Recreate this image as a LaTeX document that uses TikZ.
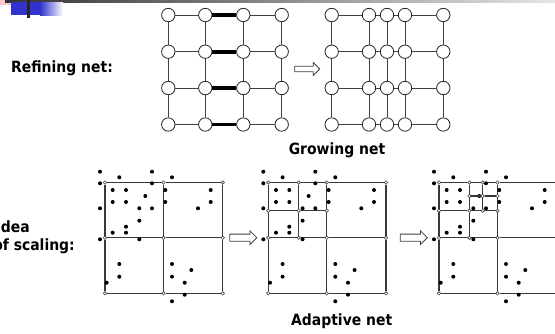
\documentclass[tikz,border=0pt]{standalone}
\usepackage{fontspec}
\newfontfamily\labfont{DejaVu Sans Condensed}
\usetikzlibrary{shapes.arrows}
\definecolor{sblue}{RGB}{50,50,205}
\begin{document}
\begin{tikzpicture}[x=1pt,y=-1pt,
  gnode/.style={circle,draw=black!85,fill=white,line width=0.8pt,minimum size=13.4pt,inner sep=0pt},
  gedge/.style={draw=black!75,line width=1pt},
  thickedge/.style={draw=black,line width=3.6pt},
  cnode/.style={circle,draw=black!75,fill=white,line width=0.6pt,minimum size=3.4pt,inner sep=0pt},
  pedge/.style={draw=black!78,line width=1.15pt},
  lab/.style={font=\labfont\bfseries\fontsize{15.5}{18}\selectfont,inner sep=0pt},
  barrow/.style={single arrow,draw=black!75,fill=white,line width=0.8pt,
    single arrow head indent=0pt,minimum width=1pt},
  toparrow/.style={barrow,minimum height=25pt,inner sep=2.4pt,single arrow head extend=3.6pt},
  botarrow/.style={barrow,minimum height=27pt,inner sep=3.2pt,single arrow head extend=3.3pt}
]
\clip (0,0) rectangle (555,333);
\fill[white] (0,0) rectangle (555,333);

% top decoration
\fill[red!22] (0,0) rectangle (22,5);
\shade[left color=black!80,right color=black!10] (5,0) rectangle (555,2.3);
\fill[sblue] (11,2) rectangle (40,15);
\shade[left color=sblue,right color=white] (40,2) rectangle (63,15);
\fill[black!85] (27.3,0) rectangle (30,17.7);

% ---------- top left grid ----------
\foreach \i/\gx in {1/168.3,2/205.3,3/243.3,4/281.7}
  \foreach \j/\gy in {1/15,2/51.7,3/88,4/124.5}
    \node[gnode] (L\i\j) at (\gx,\gy) {};
\foreach \j in {1,2,3,4}{
  \draw[gedge] (L1\j) -- (L2\j);
  \draw[thickedge] (L2\j) -- (L3\j);
  \draw[gedge] (L3\j) -- (L4\j);
}
\foreach \i in {1,2,3,4}
  \draw[gedge] (L\i1) -- (L\i2) -- (L\i3) -- (L\i4);

% ---------- top right grid ----------
\foreach \i/\gx in {1/331.7,2/369,3/387,4/405,5/443.3}
  \foreach \j/\gy in {1/15,2/51.7,3/88,4/124.5}
    \node[gnode] (R\i\j) at (\gx,\gy) {};
\foreach \j in {1,2,3,4}
  \draw[gedge] (R1\j) -- (R2\j) -- (R3\j) -- (R4\j) -- (R5\j);
\foreach \i in {1,2,3,4,5}
  \draw[gedge] (R\i1) -- (R\i2) -- (R\i3) -- (R\i4);

\node[toparrow] (A1) at (305.8,69) {};

% ---------- bottom panels ----------
\foreach \k/\ox in {1/105,2/268.3,3/439}{
  \begin{scope}[shift={(\ox,182.5)}]
    \foreach \i/\px in {0/0,1/58.5,2/117.7}
      \foreach \j/\py in {0/0,1/55.3,2/110.8}
        \node[cnode] (P\k-a\i\j) at (\px,\py) {};
  \end{scope}
  \foreach \j in {0,1,2}
    \draw[pedge] (P\k-a0\j) -- (P\k-a1\j) -- (P\k-a2\j);
  \foreach \i in {0,1,2}
    \draw[pedge] (P\k-a\i0) -- (P\k-a\i1) -- (P\k-a\i2);
  \begin{scope}[shift={(\ox-105,0)}]
    \foreach \dx/\dy in {100/171.7,119.3/177.3,152/171.7,172/177.3,100/183.3,152/183.3,
      112.7/190,126/190,145.3/196,165.3/190,210.7/190,112.7/202,126/202,165.3/202,
      210.7/202,100/208.3,139.3/208.3,152/208.3,198/208.3,139.3/220.7,126/226.7,
      112.7/232.7,126/232.7,100/239.3,139.3/239.3,119.3/264,119.3/276.7,172/264,
      191.3/270,172/276.7,106.7/282.7,184.7/282.7,184.7/294.7,172/301.3}
      \fill[black] (\dx,\dy) circle (2pt);
  \end{scope}
}

% subdivision in panels 2 and 3
\foreach \k/\ox in {2/268.3,3/439}{
  \begin{scope}[shift={(\ox,182.5)}]
    \node[cnode] (P\k-s10) at (30.4,0) {};
    \node[cnode] (P\k-s01) at (0,28.2) {};
    \node[cnode] (P\k-s11) at (30.4,28.2) {};
    \node[cnode] (P\k-s21) at (58.5,28.2) {};
    \node[cnode] (P\k-s12) at (30.4,55.3) {};
  \end{scope}
  \draw[pedge] (P\k-s01) -- (P\k-s11) -- (P\k-s21);
  \draw[pedge] (P\k-s10) -- (P\k-s11) -- (P\k-s12);
}
% second subdivision in panel 3
\begin{scope}[shift={(439,182.5)}]
  \node[cnode] (P3-t10) at (43.7,0) {};
  \node[cnode] (P3-t01) at (30.4,13.5) {};
  \node[cnode] (P3-t11) at (43.7,13.5) {};
  \node[cnode] (P3-t21) at (58.5,13.5) {};
  \node[cnode] (P3-t12) at (43.7,28.2) {};
\end{scope}
\draw[pedge] (P3-t01) -- (P3-t11) -- (P3-t21);
\draw[pedge] (P3-t10) -- (P3-t11) -- (P3-t12);

\node[botarrow] (A2) at (241.5,237.7) {};
\node[botarrow] (A3) at (412,237.7) {};

% labels
\node[lab,anchor=west] (T1) at (11,68) {Refining net:};
\node[lab] (T2) at (337,150) {Growing net};
\node[lab] (T3) at (341.7,321.7) {Adaptive net};
\node[lab,anchor=east] (T4) at (30,226.7) {Idea};
\node[lab,anchor=east] (T5) at (75,246.7) {of scaling:};
\end{tikzpicture}
\end{document}
